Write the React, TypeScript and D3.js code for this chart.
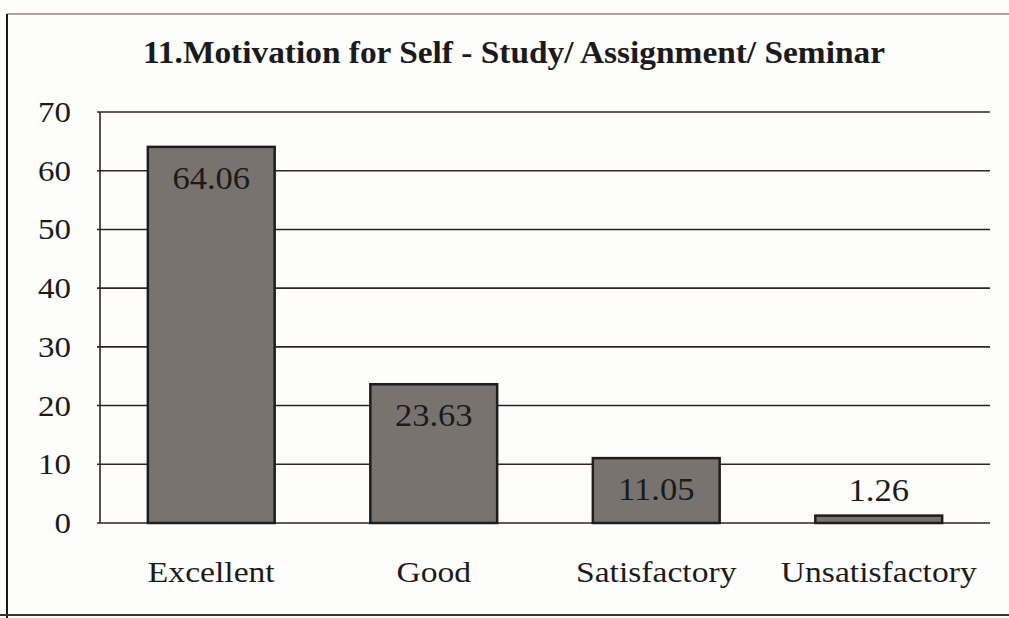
import React from "react";
import * as d3 from "d3";

const categories = ["Excellent", "Good", "Satisfactory", "Unsatisfactory"];
const values = [64.06, 23.63, 11.05, 1.26];
const valueLabels = ["64.06", "23.63", "11.05", "1.26"];
const yTicks = [0, 10, 20, 30, 40, 50, 60, 70];
const title = "11.Motivation for Self - Study/ Assignment/ Seminar";

const W = 1009;
const H = 618;
const left = 100;
const right = 990;
const top = 112;
const bottom = 523;

export default function App() {
  const x = d3.scaleBand<string>().domain(categories).range([left, right]).paddingInner(0.43).paddingOuter(0.215);
  const y = d3.scaleLinear().domain([0, 70]).range([bottom, top]);
  const ts = { fontFamily: "'Liberation Serif', serif" };
  const ink = "#1c1a1a";
  return (
    <svg width={W} height={H} style={{ position: "absolute", left: 0, top: 0, background: "#fdfdfc" }}>
      <rect x={0} y={0} width={W} height={H} fill="#fdfdfc" />
      {/* outer frame */}
      <line x1={7} y1={14} x2={W} y2={14} stroke="#8a8585" strokeWidth={1.5} />
      <line x1={7} y1={14} x2={7} y2={H} stroke={ink} strokeWidth={2} />
      <line x1={0} y1={615} x2={W} y2={615} stroke="#333" strokeWidth={2} />
      {/* title */}
      <text x={514} y={63} textAnchor="middle" fontSize={32} fontWeight="bold" fill={ink} style={ts} textLength={742} lengthAdjust="spacingAndGlyphs">
        {title}
      </text>
      {/* gridlines */}
      {yTicks.map((t) => (
        <line key={t} x1={left - 3} x2={right} y1={y(t)} y2={y(t)} stroke="#2a2626" strokeWidth={1.6} />
      ))}
      <line x1={left} x2={left} y1={top} y2={bottom} stroke="#2a2626" strokeWidth={1.6} />
      {yTicks.map((t) => (
        <text key={t} transform={`translate(71,${y(t) + 10}) scale(1.1,1)`} textAnchor="end" fontSize={30} fill={ink} style={ts}>
          {t}
        </text>
      ))}
      {/* bars */}
      {categories.map((c, i) => (
        <rect
          key={c}
          x={x(c)!}
          y={y(values[i])}
          width={x.bandwidth()}
          height={bottom - y(values[i])}
          fill="#78736f"
          stroke="#1e1c1c"
          strokeWidth={2.5}
        />
      ))}
      {/* value labels */}
      {categories.map((c, i) => {
        const cx = x(c)! + x.bandwidth() / 2;
        const inside = values[i] > 5;
        const ly = inside ? y(values[i]) + 42 : y(values[i]) - 15;
        return (
          <text key={c} transform={`translate(${cx},${ly}) scale(1.08,1)`} textAnchor="middle" fontSize={32} fill={ink} style={ts}>
            {valueLabels[i]}
          </text>
        );
      })}
      {/* category labels */}
      {categories.map((c) => (
        <text key={c} transform={`translate(${x(c)! + x.bandwidth() / 2},582) scale(1.12,1)`} textAnchor="middle" fontSize={30} fill={ink} style={ts}>
          {c}
        </text>
      ))}
    </svg>
  );
}
